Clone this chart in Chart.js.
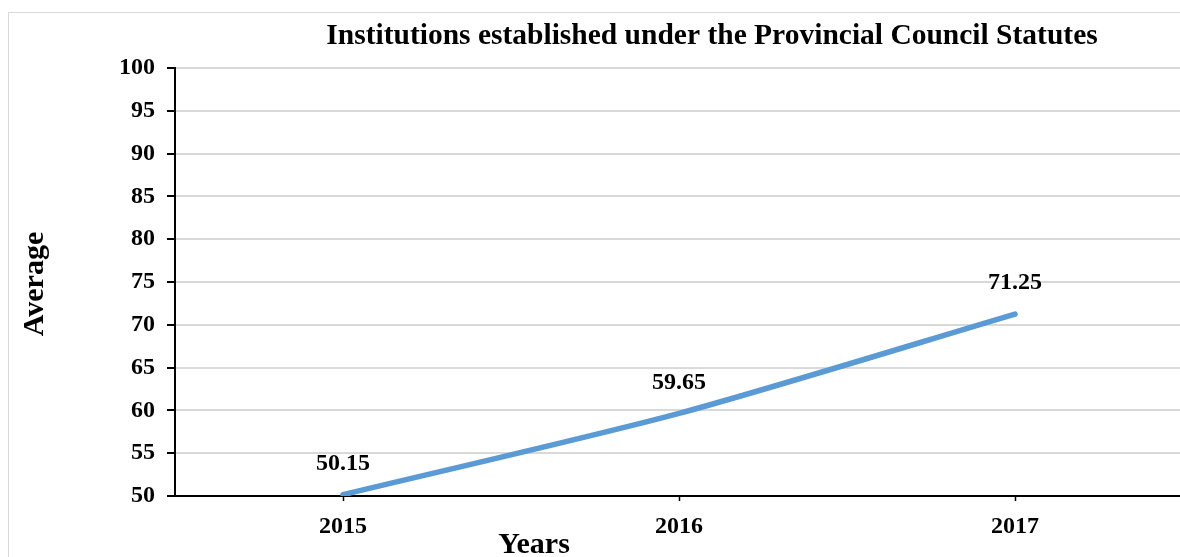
<!DOCTYPE html>
<html>
<head>
<meta charset="utf-8">
<script src="https://cdn.jsdelivr.net/npm/chart.js@4.4.1/dist/chart.umd.min.js"></script>
<style>
  html, body { margin: 0; padding: 0; background: #fff; overflow: hidden; }
  #page { position: relative; width: 1180px; height: 557px; overflow: hidden; }
  #frame { position: absolute; left: 8px; top: 12px; width: 1400px; height: 700px; border: 1px solid #d9d9d9; }
  #wrap { position: absolute; left: 0; top: 0; width: 1200px; height: 557px; }
</style>
</head>
<body>
<div id="page">
  <div id="frame"></div>
  <div id="wrap"><canvas id="myChart"></canvas></div>
</div>
<script>
const years = ["2015", "2016", "2017"];
const averages = [50.15, 59.65, 71.25];
const yMin = 50;
const yMax = 100;
const yStep = 5;

const chartTitle = "Institutions established under the Provincial Council Statutes";
const xTitle = "Years";
const yTitle = "Average";
const serif = "'Liberation Serif', 'Times New Roman', serif";

const chart = document.getElementById("myChart");

// titles and value labels drawn by hand, Excel puts them off-center
const textPlugin = {
    id: "textPlugin",
    afterDatasetsDraw(c) {
        const ctx = c.ctx;
        ctx.save();
        ctx.fillStyle = "#000";
        ctx.textAlign = "center";
        ctx.textBaseline = "middle";

        ctx.font = "bold 29.5px " + serif;
        ctx.fillText(chartTitle, 712, 36);

        ctx.font = "bold 30px " + serif;
        ctx.fillText(xTitle, 534, 545);

        ctx.save();
        ctx.translate(35, 284);
        ctx.rotate(-Math.PI / 2);
        ctx.fillText(yTitle, 0, 0);
        ctx.restore();

        ctx.font = "bold 24px " + serif;
        const meta = c.getDatasetMeta(0);
        meta.data.forEach((pt, i) => {
            ctx.fillText(averages[i].toFixed(2), pt.x, pt.y - 31);
        });
        ctx.restore();
    }
};

const datasets = [
    {
        label: "Average",
        data: averages,
        borderColor: "#5b9bd5",
        borderWidth: 5.5,
        borderCapStyle: "round",
        pointRadius: 0,
        tension: 0.25,
        fill: false,
    },
];

const config = {
    type: "line",
    data: { labels: years, datasets },
    options: {
        responsive: false,
        animation: false,
        layout: { padding: { left: 0, top: 68, right: 17, bottom: 0 } },
        plugins: {
            legend: { display: false },
            tooltip: { enabled: false },
        },
        scales: {
            x: {
                offset: true,
                grid: {
                    offset: false,
                    drawOnChartArea: false,
                    tickColor: "#000",
                    tickLength: 5,
                    tickWidth: 1.5,
                },
                border: { color: "#000", width: 2 },
                ticks: {
                    color: "#000",
                    padding: 11,
                    font: { family: serif, size: 24, weight: "bold" },
                },
                afterFit(scale) { scale.height = 61; },
            },
            y: {
                min: yMin,
                max: yMax,
                grid: {
                    color: "#d9d9d9",
                    lineWidth: 2,
                    tickColor: "#000",
                    tickLength: 8,
                    tickWidth: 2,
                },
                border: { color: "#000", width: 2 },
                ticks: {
                    stepSize: yStep,
                    color: "#000",
                    padding: 12,
                    font: { family: serif, size: 24, weight: "bold" },
                },
                afterFit(scale) { scale.width = 175; },
            },
        },
    },
    plugins: [textPlugin],
};

chart.width = 1200;
chart.height = 557;
const myChart = new Chart(chart, config);
</script>
</body>
</html>
